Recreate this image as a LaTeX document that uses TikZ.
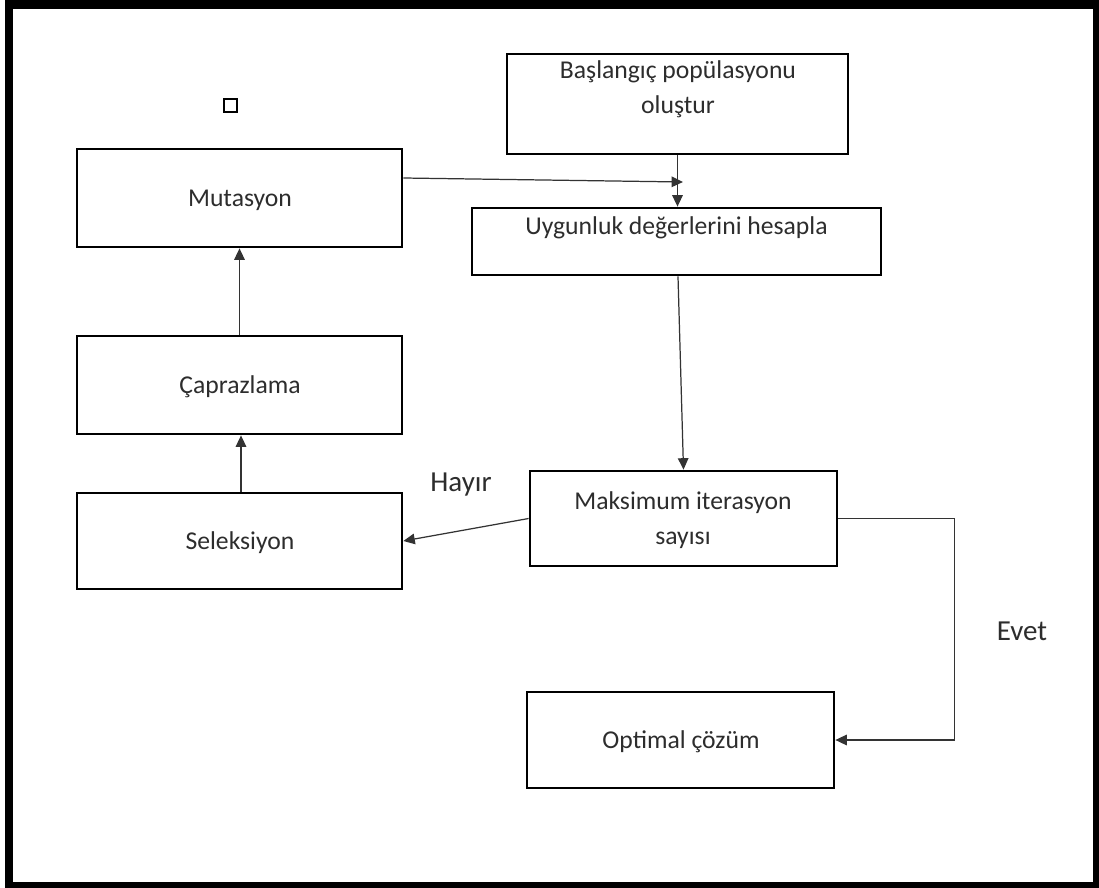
\documentclass[tikz,border=0pt]{standalone}
\usepackage{fontspec}
\setmainfont{Carlito}
\usetikzlibrary{arrows.meta,positioning}
\definecolor{txtgray}{RGB}{45,45,45}
\tikzstyle{arrow} = [line width=0.7pt,->,>={Triangle[length=6.5pt,width=6pt]},color=black!80]
\tikzstyle{stepbox} = [rectangle, draw=black, line width=1.6pt, inner sep=0pt]
\tikzstyle{boxtext} = [text=txtgray, font=\fontsize{14.6}{20}\selectfont, align=center, inner sep=0pt]
\tikzstyle{answer} = [text=txtgray, font=\fontsize{16.5}{19}\selectfont, inner sep=0pt]

\begin{document}
\begin{tikzpicture}[x=0.02cm, y=-0.02cm]
% Frame
\useasboundingbox (0,0) rectangle (1099,888);
\fill[white] (0,0) rectangle (1099,888);
\fill[black] (5,0) rectangle (1099,888);
\fill[white] (13,9) rectangle (1093,882);

% Small square
\node[draw=black, line width=0.6pt, minimum size=0.26cm, inner sep=0pt] (sq) at (230.5,105.5) {};

% Boxes
\node[stepbox, minimum width=6.82cm, minimum height=2cm] (bas) at (677.5,104) {};
\node[stepbox, minimum width=8.18cm, minimum height=1.34cm] (uyg) at (676.5,241.5) {};
\node[stepbox, minimum width=6.5cm, minimum height=1.96cm] (mut) at (239.5,198) {};
\node[stepbox, minimum width=6.5cm, minimum height=1.96cm] (cap) at (239.5,385) {};
\node[stepbox, minimum width=6.5cm, minimum height=1.92cm] (sel) at (239.5,541) {};
\node[stepbox, minimum width=6.14cm, minimum height=1.9cm] (mak) at (683.5,518.5) {};
\node[stepbox, minimum width=6.14cm, minimum height=1.92cm] (opt) at (680.5,740) {};

% Texts
\node[boxtext] (bastxt) at (678,89.5) {Başlangıç popülasyonu\\oluştur};
\node[boxtext] (uygtxt) at (676.5,228) {Uygunluk değerlerini hesapla};
\node[boxtext] (muttxt) at (240,200) {Mutasyon};
\node[boxtext] (captxt) at (240,387) {Çaprazlama};
\node[boxtext] (seltxt) at (240,543) {Seleksiyon};
\node[boxtext] (maktxt) at (683,520.5) {Maksimum iterasyon\\sayısı};
\node[boxtext] (opttxt) at (681,742) {Optimal çözüm};

% Labels
\node[answer] (hayir) at (461,485) {Hayır};
\node[answer] (evet) at (1022,631) {Evet};

% Connections
\coordinate (mj) at (683,182);
\draw[arrow] (bas.south) -- (bas.south |- uyg.north);
\draw[arrow] ([yshift=0.4cm]mut.east) -- (mj);
\draw[arrow] ([xshift=0.03cm]uyg.south) -- (mak.north);
\draw[arrow] (mak.west) -- (sel.east);
\draw[arrow] (mak.east) -- ++(116,0) |- (opt.east);
\draw[arrow] ([xshift=0.03cm]sel.north) -- ([xshift=0.03cm]cap.south);
\draw[arrow] (cap.north) -- (mut.south);
\end{tikzpicture}
\end{document}
